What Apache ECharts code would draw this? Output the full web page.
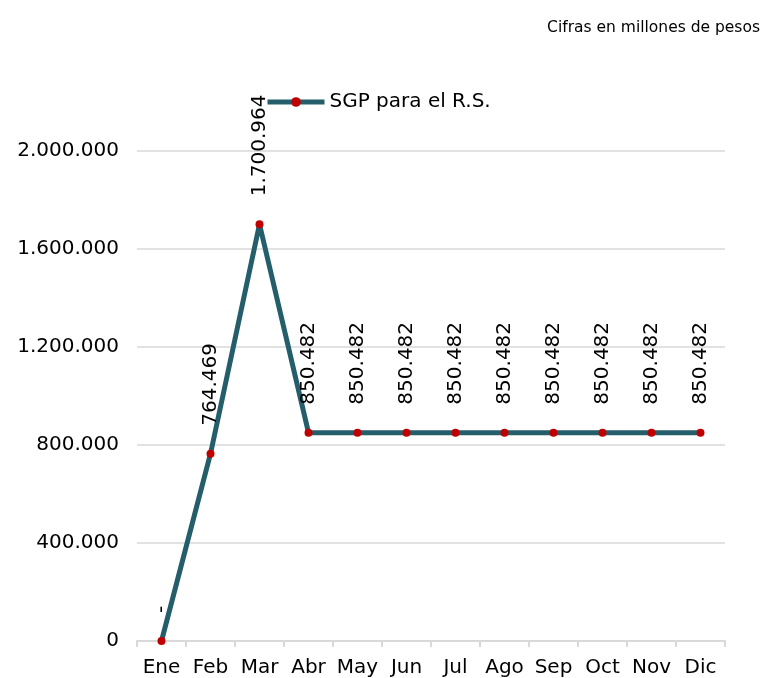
<!DOCTYPE html>
<html>
<head>
<meta charset="utf-8">
<script src="https://cdn.jsdelivr.net/npm/echarts@6/dist/echarts.min.js"></script>
<style>
  html, body { margin: 0; padding: 0; background: #fff; }
  #chart { width: 769px; height: 678px; }
</style>
</head>
<body>
<div id="chart"></div>
<script>
// meses y valores (cifras en millones de pesos)
var meses = ['Ene', 'Feb', 'Mar', 'Abr', 'May', 'Jun', 'Jul', 'Ago', 'Sep', 'Oct', 'Nov', 'Dic'];
var sgpValores = [0, 764469, 1700964, 850482, 850482, 850482, 850482, 850482, 850482, 850482, 850482, 850482];
var serieNombre = 'SGP para el R.S.';
var notaTitulo = 'Cifras en millones de pesos';

function formatoMiles(v) {
    if (v === 0) return '-';
    return String(Math.round(v)).replace(/\B(?=(\d{3})+(?!\d))/g, '.');
}

var chart = echarts.init(document.getElementById('chart'));
var option = {
    animation: false,
    textStyle: { fontFamily: 'DejaVu Sans' },
    title: {
        text: notaTitulo,
        right: 4,
        top: 15,
        textStyle: { fontSize: 15.5, fontWeight: 'normal', color: '#000', fontFamily: 'DejaVu Sans' }
    },
    legend: {
        data: [serieNombre],
        left: 260,
        top: 87,
        itemWidth: 57,
        itemHeight: 12,
        itemGap: 4,
        lineStyle: { width: 5, color: '#255e6b' },
        textStyle: { fontSize: 20, color: '#000', fontFamily: 'DejaVu Sans' }
    },
    grid: {
        left: 137,
        right: 44,
        top: 151,
        bottom: 36
    },
    xAxis: {
        type: 'category',
        data: meses,
        axisLine: { lineStyle: { color: '#d9d9d9', width: 2 } },
        axisTick: { show: true, length: 6, lineStyle: { color: '#d9d9d9', width: 2 } },
        axisLabel: { color: '#000', fontSize: 20, margin: 17, interval: 0 }
    },
    yAxis: {
        type: 'value',
        min: 0,
        max: 2000000,
        interval: 400000,
        axisLine: { show: false },
        axisTick: { show: false },
        splitLine: { lineStyle: { color: '#d9d9d9', width: 1.5 } },
        axisLabel: {
            color: '#000',
            fontSize: 20,
            margin: 18,
            formatter: function(v) { return v === 0 ? '0' : formatoMiles(v); }
        }
    },
    series: [{
        name: serieNombre,
        type: 'line',
        data: sgpValores,
        symbol: 'circle',
        symbolSize: 8,
        lineStyle: { color: '#255e6b', width: 5 },
        itemStyle: { color: '#c00000' },
        label: {
            show: true,
            position: 'top',
            rotate: 90,
            align: 'left',
            verticalAlign: 'middle',
            distance: 24,
            fontSize: 20,
            color: '#000',
            formatter: function(p) { return formatoMiles(p.value); }
        }
    }]
};
chart.setOption(option);
</script>
</body>
</html>
